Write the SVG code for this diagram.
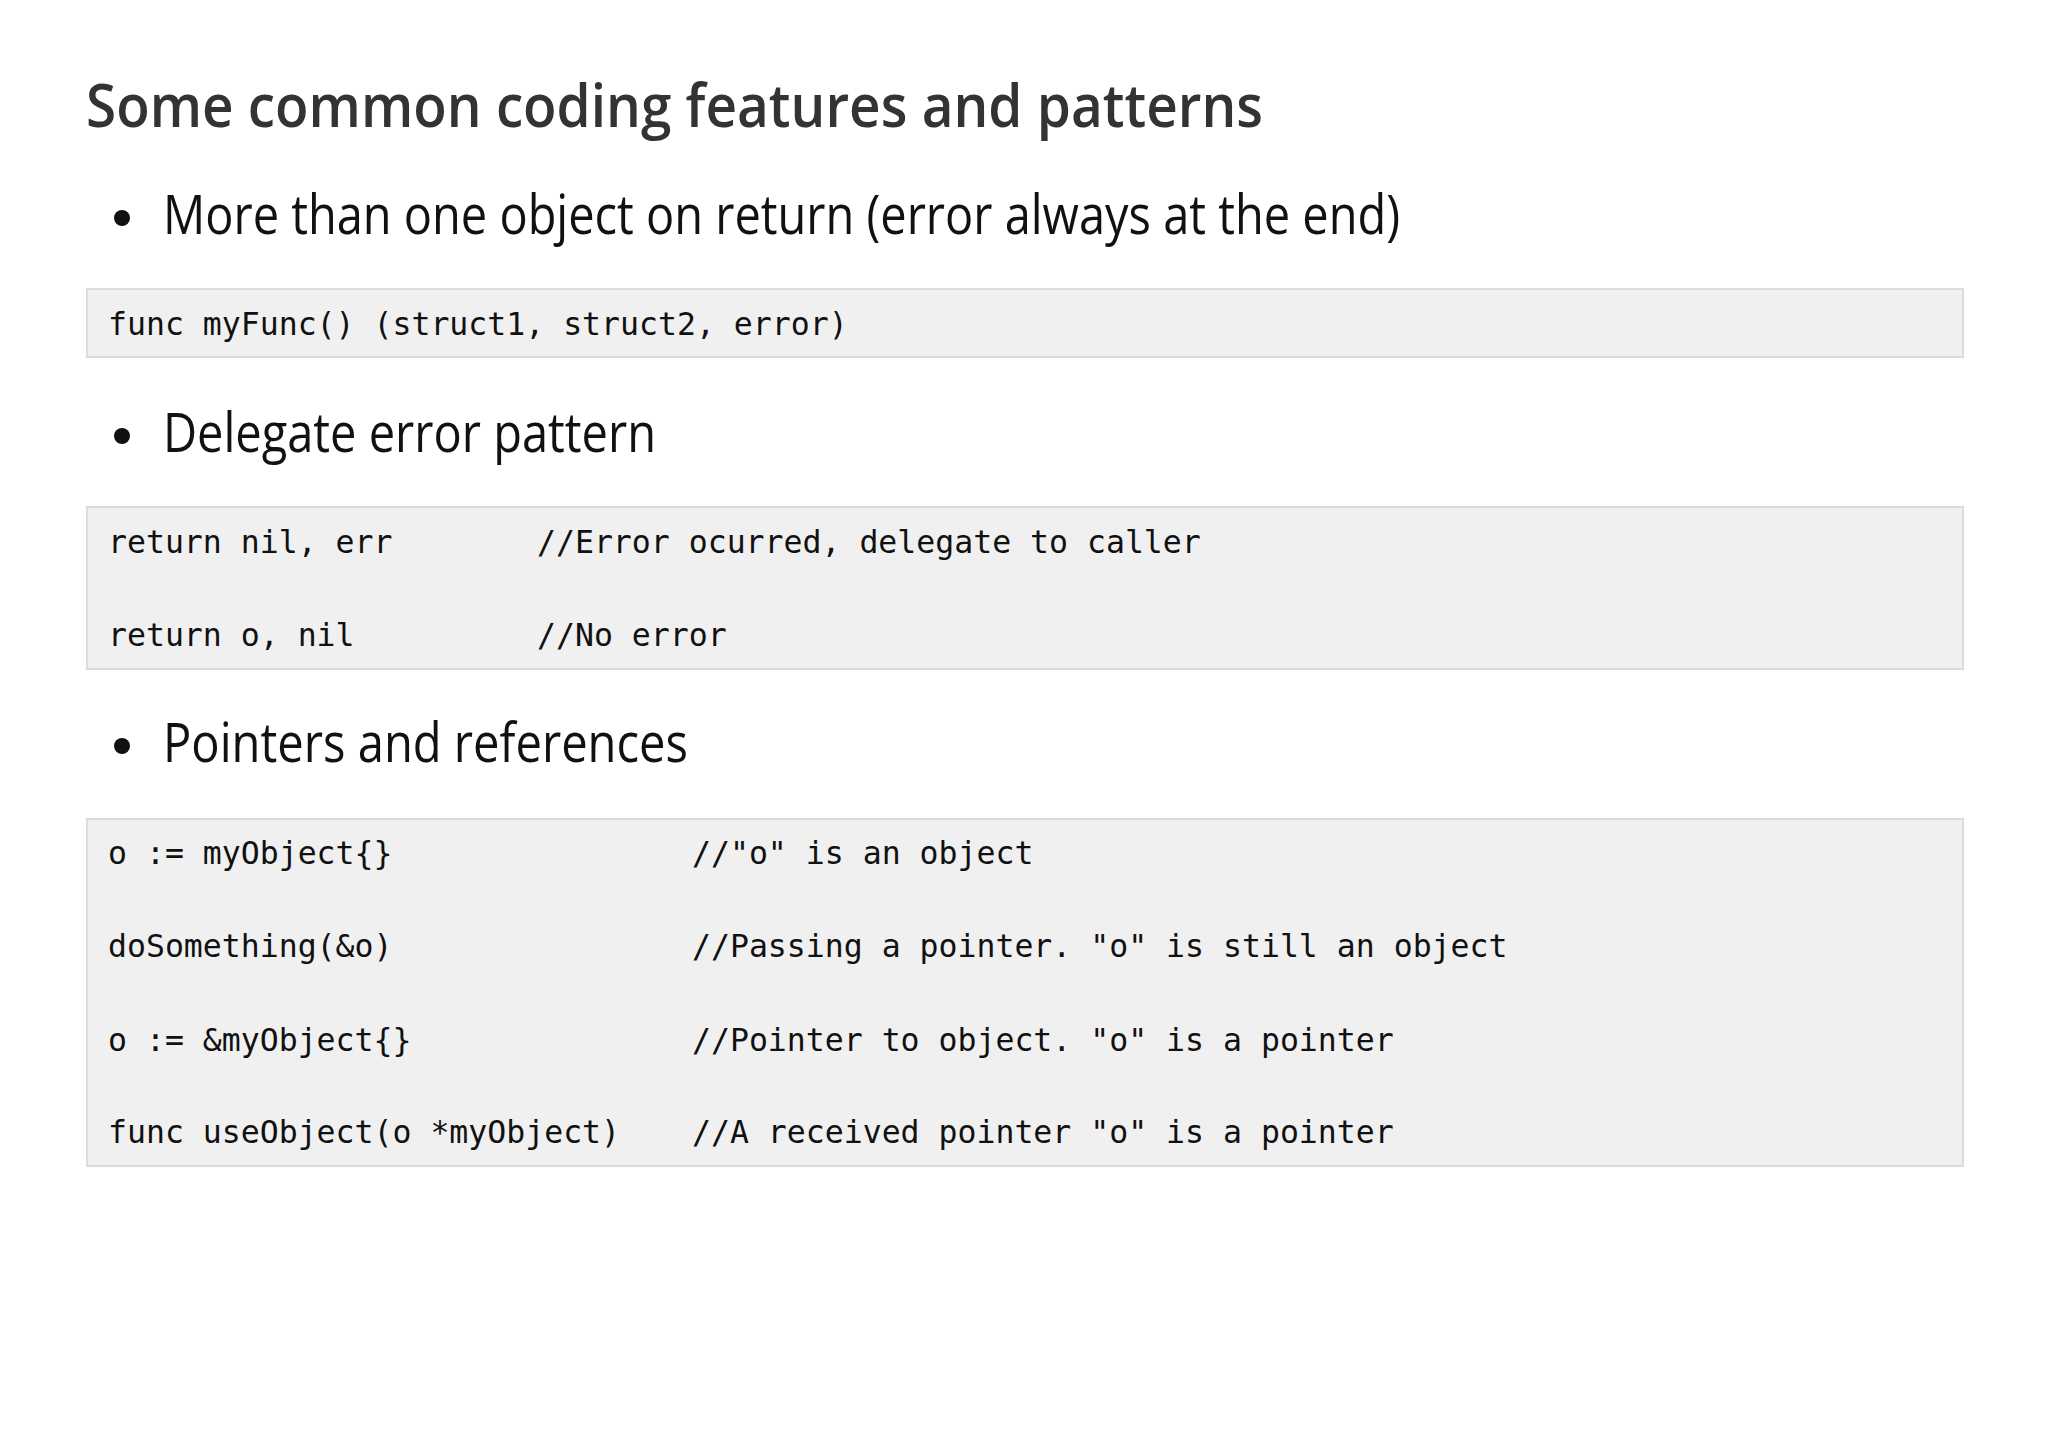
<svg xmlns="http://www.w3.org/2000/svg" width="2048" height="1447" viewBox="0 0 2048 1447">
<style>
.t{font-family:"Open Sans","Noto Sans",sans-serif;font-weight:600;fill:#333;font-size:60px}
.b{font-family:"Open Sans","Noto Sans",sans-serif;fill:#111;font-size:55px}
.c{font-family:"DejaVu Sans Mono","Liberation Mono",monospace;fill:#111;font-size:31.5px}
.box{fill:#f0f0f0;stroke:#dcdcdc;stroke-width:2}
</style>
<rect width="2048" height="1447" fill="#fff"/>
<text class="t" x="86" y="127" textLength="1177" lengthAdjust="spacingAndGlyphs">Some common coding features and patterns</text>
<g id="bullet1"><circle cx="122" cy="218" r="8" fill="#111"/>
<text class="b" x="163" y="234" textLength="1237" lengthAdjust="spacingAndGlyphs">More than one object on return (error always at the end)</text></g>
<g id="code1"><rect class="box" x="87" y="289" width="1876" height="68"/>
<text class="c" x="108" y="335">func myFunc() (struct1, struct2, error)</text></g>
<g id="bullet2"><circle cx="122" cy="436" r="8" fill="#111"/>
<text class="b" x="163" y="452" textLength="493" lengthAdjust="spacingAndGlyphs">Delegate error pattern</text></g>
<g id="code2"><rect class="box" x="87" y="507" width="1876" height="162"/>
<text class="c" x="108" y="553">return nil, err</text><text class="c" x="537" y="553">//Error ocurred, delegate to caller</text>
<text class="c" x="108" y="646">return o, nil</text><text class="c" x="537" y="646">//No error</text></g>
<g id="bullet3"><circle cx="122" cy="746" r="8" fill="#111"/>
<text class="b" x="163" y="762" textLength="525" lengthAdjust="spacingAndGlyphs">Pointers and references</text></g>
<g id="code3"><rect class="box" x="87" y="819" width="1876" height="347"/>
<text class="c" x="108" y="864">o := myObject{}</text><text class="c" x="692" y="864">//"o" is an object</text>
<text class="c" x="108" y="957">doSomething(&amp;o)</text><text class="c" x="692" y="957">//Passing a pointer. "o" is still an object</text>
<text class="c" x="108" y="1051">o := &amp;myObject{}</text><text class="c" x="692" y="1051">//Pointer to object. "o" is a pointer</text>
<text class="c" x="108" y="1143">func useObject(o *myObject)</text><text class="c" x="692" y="1143">//A received pointer "o" is a pointer</text></g>
</svg>
